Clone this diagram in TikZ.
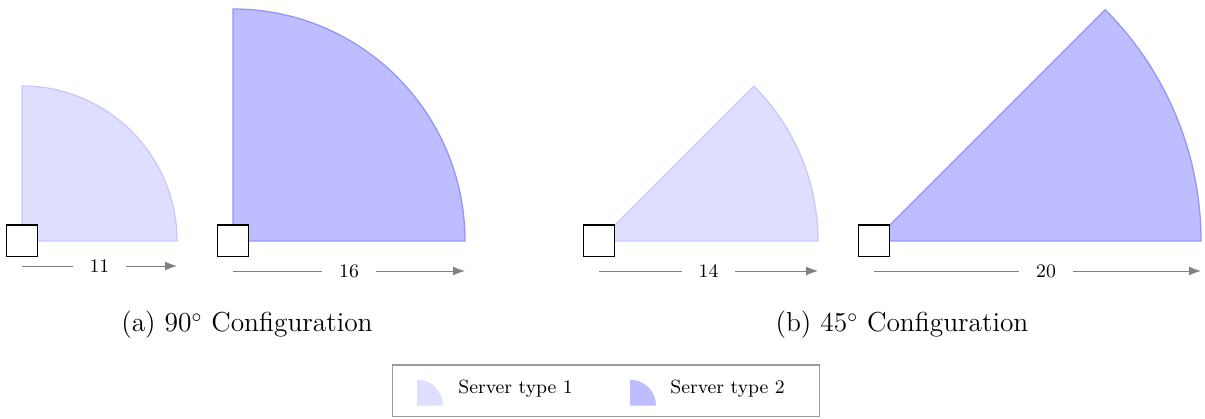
\documentclass[tikz,border=0pt]{standalone}
\usetikzlibrary{arrows.meta, calc}
\definecolor{cfgLightFill}{HTML}{DEDEFF}
\definecolor{cfgLightLine}{HTML}{C8C8FF}
\definecolor{cfgDarkFill}{HTML}{BDBDFF}
\definecolor{cfgDarkLine}{HTML}{9494FF}
\definecolor{cfgGray}{HTML}{808080}
\definecolor{cfgFrame}{HTML}{9A9A9A}

\begin{document}
\begin{tikzpicture}[
    x=0.47pt, y=0.47pt,
    type1/.style={fill=cfgLightFill, draw=cfgLightLine, line width=0.6pt},
    type2/.style={fill=cfgDarkFill, draw=cfgDarkLine, line width=0.6pt},
    server/.style={draw=black, fill=white, line width=0.5pt,
        minimum size=15pt, inner sep=0pt},
    dist/.style={-{Latex[length=5.6pt, width=4.2pt]}, draw=cfgGray, line width=0.45pt},
    distlabel/.style={fill=white, font=\small, inner xsep=8pt, inner ysep=1pt},
    caption/.style={font=\fontsize{12.9}{15}\selectfont},
    legendbox/.style={draw=cfgFrame, line width=0.5pt, fill=white,
        minimum width=200.7pt, minimum height=24.4pt},
    legendtext/.style={font=\small, anchor=base west, inner sep=0pt},
]
\useasboundingbox (0,0) rectangle (1205,419);

% (a) 90 degree configuration, type 1
\draw[type1] (22,178) -- ++(0:155) arc[start angle=0, end angle=90, radius=155] -- cycle;
\node[server] (srvA1) at (22,178) {};
\coordinate (a1s) at (22,153);
\coordinate (a1e) at (177,153);
\draw[dist] (a1s) -- node[distlabel] (lblA1) {11} (a1e);

% (a) 90 degree configuration, type 2
\draw[type2] (233,178) -- ++(0:232) arc[start angle=0, end angle=90, radius=232] -- cycle;
\node[server] (srvA2) at (233,178) {};
\coordinate (a2s) at (233,148);
\coordinate (a2e) at (465,148);
\draw[dist] (a2s) -- node[distlabel] (lblA2) {16} (a2e);

\node[caption] (capA) at (247,94) {(a) 90$^\circ$ Configuration};

% (b) 45 degree configuration, type 1
\draw[type1] (599,178) -- ++(0:219) arc[start angle=0, end angle=45, radius=219] -- cycle;
\node[server] (srvB1) at (599,178) {};
\coordinate (b1s) at (599,148);
\coordinate (b1e) at (818,148);
\draw[dist] (b1s) -- node[distlabel] (lblB1) {14} (b1e);

% (b) 45 degree configuration, type 2
\draw[type2] (874,178) -- ++(0:327) arc[start angle=0, end angle=45, radius=327] -- cycle;
\node[server] (srvB2) at (874,178) {};
\coordinate (b2s) at (874,148);
\coordinate (b2e) at (1201,148);
\draw[dist] (b2s) -- node[distlabel, pos=0.526] (lblB2) {20} (b2e);

\node[caption] (capB) at (902,94) {(b) 45$^\circ$ Configuration};

% Legend
\node[legendbox] (legend) at (606,28) {};
\fill[cfgLightFill] (417,13.3) -- ++(0:26) arc[start angle=0, end angle=90, radius=26] -- cycle;
\node[legendtext] (leg1) at (458,25.5) {Server type 1};
\fill[cfgDarkFill] (630,13.3) -- ++(0:26) arc[start angle=0, end angle=90, radius=26] -- cycle;
\node[legendtext] (leg2) at (670,25.5) {Server type 2};

\end{tikzpicture}
\end{document}
